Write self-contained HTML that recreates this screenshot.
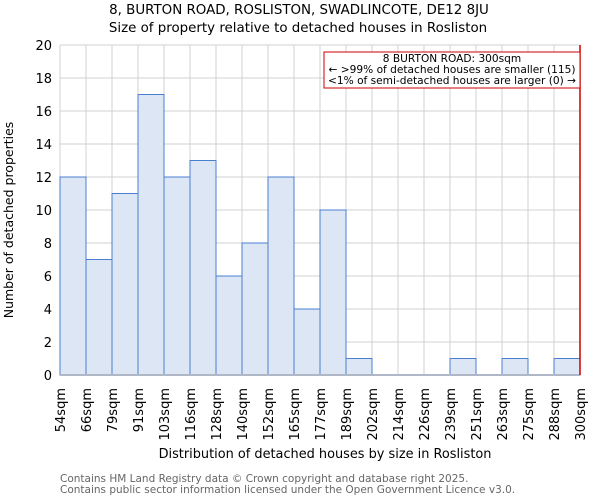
<!DOCTYPE html>
<html><head><meta charset="utf-8"><style>
body{margin:0;background:#fff}
svg{display:block;font-family:"DejaVu Sans","Liberation Sans",sans-serif}
</style></head><body>
<svg id="chart" width="600" height="500">
<text x="299" y="14" font-size="13.4" text-anchor="middle">8, BURTON ROAD, ROSLISTON, SWADLINCOTE, DE12 8JU</text>
<text x="298" y="32" font-size="13.4" text-anchor="middle">Size of property relative to detached houses in Rosliston</text>
<g id="grid"></g>
<g id="bars"></g>
<g id="axes"></g>
<line x1="580" y1="45" x2="580" y2="375" stroke="#cc0000" stroke-width="1.5"/>
<g>
<rect x="324" y="52" width="256" height="36" fill="#fff" stroke="#cc0000" stroke-width="1"/>
<text x="452" y="62" font-size="10.6" text-anchor="middle">8 BURTON ROAD: 300sqm</text>
<text x="452" y="73" font-size="10.6" text-anchor="middle">← &gt;99% of detached houses are smaller (115)</text>
<text x="452" y="84" font-size="10.6" text-anchor="middle">&lt;1% of semi-detached houses are larger (0) →</text>
</g>
<text x="325" y="458" font-size="12.9" text-anchor="middle">Distribution of detached houses by size in Rosliston</text>
<text transform="translate(13,220) rotate(-90)" font-size="12.5" text-anchor="middle">Number of detached properties</text>
<text x="60" y="482" font-size="10.5" fill="#666">Contains HM Land Registry data © Crown copyright and database right 2025.</text>
<text x="60" y="493" font-size="10.5" fill="#666">Contains public sector information licensed under the Open Government Licence v3.0.</text>
</svg>
<script>
const binLabels=["54sqm","66sqm","79sqm","91sqm","103sqm","116sqm","128sqm","140sqm","152sqm","165sqm","177sqm","189sqm","202sqm","214sqm","226sqm","239sqm","251sqm","263sqm","275sqm","288sqm","300sqm"];
const counts=[12,7,11,17,12,13,6,8,12,4,10,1,0,0,0,1,0,1,0,1];
const yTicks=[0,2,4,6,8,10,12,14,16,18,20];
const L=60,R=580,T=45,B=375,yMax=20;
const NS="http://www.w3.org/2000/svg";
const bw=(R-L)/counts.length;
const x=i=>L+i*bw;
const y=v=>B-(v/yMax)*(B-T);
function mk(tag,attrs,parent){const e=document.createElementNS(NS,tag);for(const k in attrs)e.setAttribute(k,attrs[k]);parent.appendChild(e);return e;}
const grid=document.getElementById('grid'),bars=document.getElementById('bars'),axes=document.getElementById('axes');
yTicks.forEach(t=>{
  const g=mk('line',{x1:L,x2:R,y1:y(t),y2:y(t),stroke:'#d0d0d0','stroke-width':1},grid);
  
  
  const tx=mk('text',{x:L-8,y:y(t)+5,'font-size':13,'text-anchor':'end'},axes);
  tx.textContent=t;
  
  
});
binLabels.forEach((lab,i)=>{
  const g=mk('line',{x1:x(i),x2:x(i),y1:T,y2:B,stroke:'#d0d0d0','stroke-width':1},grid);
  
  
  const tx=mk('text',{transform:`translate(${x(i)+5},388) rotate(-90)`,'font-size':13,'text-anchor':'end'},axes);
  tx.textContent=lab;
  
  
});
counts.forEach((c,i)=>{
  if(c<=0)return;
  const r=mk('rect',{x:x(i),y:y(c),width:bw,height:B-y(c),fill:'#dde6f4',stroke:'#4a7fd0','stroke-width':1},bars);
  
  
});
const ax=mk('line',{x1:L,x2:R,y1:B,y2:B,stroke:'#b0b8c8','stroke-width':2},axes);


</script>
</body></html>
